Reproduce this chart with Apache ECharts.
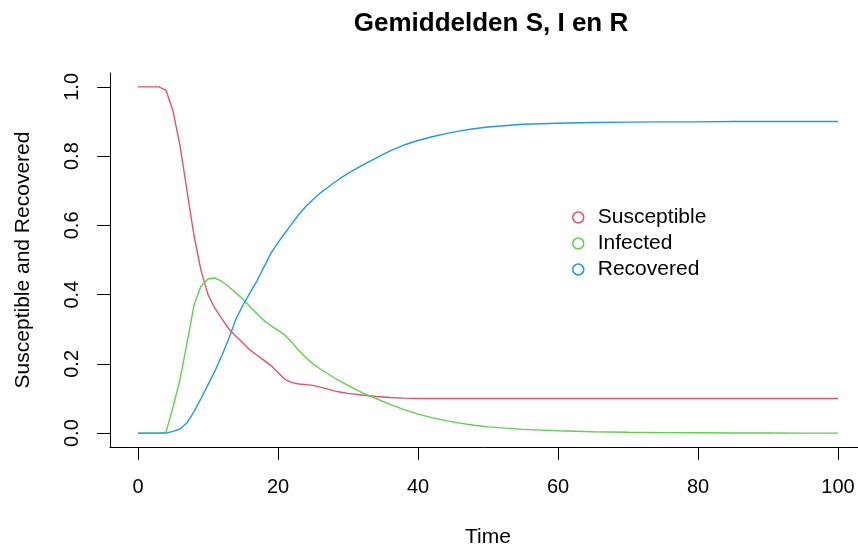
<!DOCTYPE html>
<html>
<head>
<meta charset="utf-8">
<script src="https://cdn.jsdelivr.net/npm/echarts@6/dist/echarts.min.js"></script>
<style>
  html, body { margin: 0; padding: 0; background: #fff; }
  #chart { width: 858px; height: 551px; }
</style>
</head>
<body>
<div id="chart"></div>
<script>
// Average S, I and R fractions of the epidemic simulation over time
const times = [
  0, 1, 2, 3, 4, 5, 6, 7, 8, 9, 10, 11, 12, 13, 14, 15, 16, 17, 18, 19, 20,
  21, 22, 23, 24, 25, 26, 27, 28, 29, 30, 32, 34, 36, 38, 40, 42, 44, 46, 48, 50,
  55, 60, 65, 70, 75, 80, 85, 90, 95, 100
];
const susceptible = [
  1.0, 1.0, 1.0, 1.0, 0.99, 0.93, 0.83, 0.70, 0.57, 0.47, 0.40,
  0.36, 0.33, 0.30, 0.28, 0.26, 0.24, 0.225, 0.21, 0.195, 0.175,
  0.155, 0.146, 0.142, 0.140, 0.138, 0.133, 0.128, 0.122, 0.118, 0.115,
  0.110, 0.106, 0.103, 0.101, 0.100, 0.100, 0.100, 0.100, 0.100, 0.100,
  0.100, 0.100, 0.100, 0.100, 0.100, 0.100, 0.100, 0.100, 0.100, 0.100
];
const infected = [
  0, 0, 0, 0, 0.003, 0.075, 0.155, 0.26, 0.37, 0.425, 0.445,
  0.448, 0.438, 0.422, 0.405, 0.387, 0.365, 0.345, 0.325, 0.31, 0.297,
  0.283, 0.262, 0.238, 0.218, 0.200, 0.186, 0.173, 0.160, 0.149, 0.138,
  0.117, 0.100, 0.083, 0.068, 0.055, 0.045, 0.036, 0.029, 0.023, 0.018,
  0.011, 0.007, 0.004, 0.0025, 0.0015, 0.001, 0.0005, 0.0003, 0.0002, 0.0001
];
const recovered = [
  0, 0, 0, 0, 0, 0.005, 0.012, 0.03, 0.062, 0.10, 0.14,
  0.18, 0.225, 0.275, 0.33, 0.37, 0.405, 0.44, 0.48, 0.52, 0.55,
  0.578, 0.605, 0.632, 0.655, 0.675, 0.693, 0.708, 0.723, 0.737, 0.75,
  0.773, 0.794, 0.815, 0.832, 0.845, 0.856, 0.865, 0.873, 0.879, 0.884,
  0.892, 0.895, 0.897, 0.898, 0.899, 0.899, 0.9, 0.9, 0.9, 0.9
];
const xTicks = [0, 20, 40, 60, 80, 100];
const yTicks = [0, 0.2, 0.4, 0.6, 0.8, 1.0];
const seriesNames = ['Susceptible', 'Infected', 'Recovered'];
const colors = ['#DF536B', '#61D04F', '#2297E6'];

const font = '"Liberation Sans", Arial, Helvetica, sans-serif';
const pairs = vals => times.map((t, i) => [t, vals[i]]);
const allValues = [susceptible, infected, recovered];

const chart = echarts.init(document.getElementById('chart'), null, { renderer: 'canvas' });
chart.setOption({
  animation: false,
  backgroundColor: '#ffffff',
  title: {
    text: 'Gemiddelden S, I en R',
    left: 486, top: 6, textAlign: 'center',
    textStyle: { fontFamily: font, fontSize: 26, fontWeight: 'bold', color: '#000' }
  },
  legend: {
    orient: 'vertical',
    left: 567, top: 202,
    itemWidth: 11, itemHeight: 11, itemGap: 5,
    textStyle: { fontFamily: font, fontSize: 21, color: '#000', padding: [0, 0, 0, 9] },
    data: seriesNames.map((n, i) => ({
      name: n, icon: 'circle',
      itemStyle: { color: '#fff', borderColor: colors[i], borderWidth: 1.5 }
    }))
  },
  grid: {
    left: 110, top: 73, width: 756, height: 374,
    containLabel: false, outerBoundsMode: 'none'
  },
  xAxis: {
    type: 'value', min: -4, max: 104,
    name: 'Time', nameLocation: 'middle', nameGap: 80, nameMoveOverlap: false,
    nameTextStyle: { fontFamily: font, fontSize: 21, color: '#000' },
    axisLine: { show: true, onZero: false, lineStyle: { color: '#000', width: 1 } },
    axisTick: { show: true, length: 13, customValues: xTicks, lineStyle: { color: '#000' } },
    axisLabel: { customValues: xTicks, margin: 30, fontFamily: font, fontSize: 20, color: '#000' },
    splitLine: { show: false }
  },
  yAxis: {
    type: 'value', min: -0.04, max: 1.04,
    name: 'Susceptible and Recovered', nameLocation: 'middle', nameGap: 76, nameRotate: 90,
    nameMoveOverlap: false,
    nameTextStyle: { fontFamily: font, fontSize: 21, color: '#000' },
    axisLine: { show: true, onZero: false, lineStyle: { color: '#000', width: 1 } },
    axisTick: { show: true, length: 13, customValues: yTicks, lineStyle: { color: '#000' } },
    axisLabel: {
      customValues: yTicks, rotate: 90, margin: 28,
      formatter: v => v.toFixed(1),
      fontFamily: font, fontSize: 20, color: '#000'
    },
    splitLine: { show: false }
  },
  series: seriesNames.map((n, i) => ({
    name: n, type: 'line',
    data: pairs(allValues[i]),
    showSymbol: false, symbol: 'none',
    lineStyle: { color: colors[i], width: 1.4 },
    itemStyle: { color: colors[i] }
  }))
});
</script>
</body>
</html>
